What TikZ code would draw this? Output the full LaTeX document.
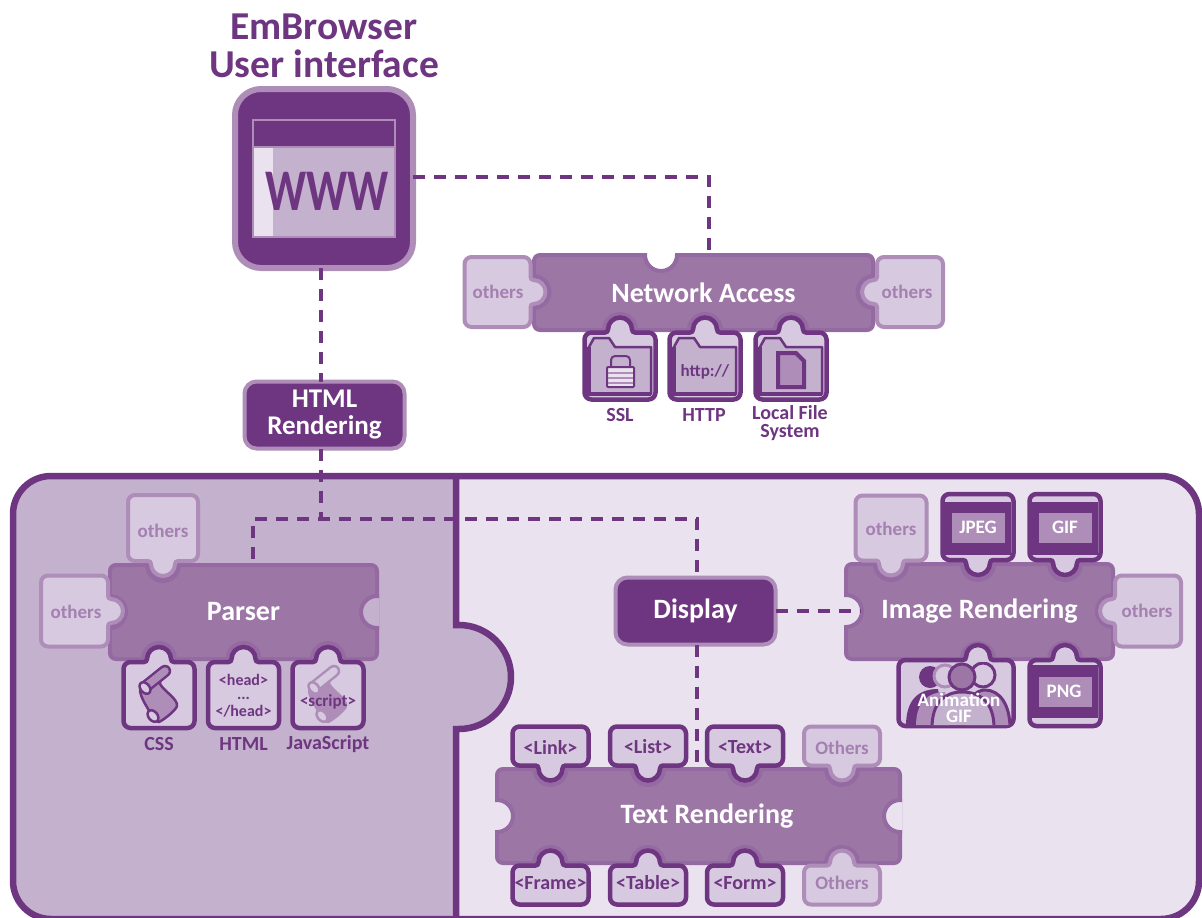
\documentclass[tikz,border=0pt]{standalone}
\usepackage{fontspec}
\setmainfont{Carlito}
\definecolor{darkcol}{HTML}{6E3581}
\definecolor{midcol}{HTML}{9C77A6}
\definecolor{edgecol}{HTML}{9569A1}
\definecolor{palecol}{HTML}{AE8DB9}
\definecolor{lightcol}{HTML}{D7C9DF}
\definecolor{panelcol}{HTML}{C3B1CD}
\definecolor{backcol}{HTML}{EAE2EF}
\begin{document}
\begin{tikzpicture}[x=1pt,y=-1pt,
  puzzle/.style={rectangle,draw=edgecol,fill=midcol,line width=4pt,rounded corners=6pt,
    inner sep=0pt,outer sep=0pt,text=white,font=\bfseries\fontsize{28}{28}\selectfont},
  button/.style={rectangle,draw=palecol,fill=darkcol,line width=4pt,rounded corners=12pt,
    inner sep=0pt,outer sep=0pt,text=white,align=center,minimum width=160pt,minimum height=67pt,
    font=\bfseries\fontsize{27}{27}\selectfont},
  link/.style={draw=darkcol,line width=3.5pt,dash pattern=on 12pt off 9pt},
  caption/.style={inner sep=0pt,text=darkcol,align=center,font=\bfseries\fontsize{20}{18}\selectfont},
  othertext/.style={caption,text=palecol!85!darkcol,font=\bfseries\fontsize{19}{18}\selectfont},
  phototext/.style={caption,text=white,font=\bfseries\fontsize{19}{16}\selectfont},
  darktab/.style={draw=darkcol,fill=lightcol,line width=4.5pt},
  paletab/.style={draw=palecol,fill=lightcol,line width=4pt},
  pics/earbox/.style n args={3}{code={
    \path[pic actions]
      (-#1,#2-7) -- (-#1,-#2+7) arc[start angle=180,end angle=270,radius=7]
      -- ({#3-15},-#2) arc[start angle=90,end angle=0,radius=3]
      arc[start angle=180,end angle=360,radius=12]
      arc[start angle=180,end angle=90,radius=3]
      -- (#1-7,-#2) arc[start angle=270,end angle=360,radius=7]
      -- (#1,#2-7) arc[start angle=0,end angle=90,radius=7]
      -- (-#1+7,#2) arc[start angle=90,end angle=180,radius=7] -- cycle;
  }},
  pics/notch/.style={code={
    \path[fill=#1,draw=edgecol,line width=4pt]
      (-16,-2) -- (-16,0) arc[start angle=180,end angle=0,radius=16] -- (16,-2);
  }},
  pics/folder/.style={code={
    \path[fill=panelcol,draw=darkcol,line width=2.5pt,line join=round]
      (-31,-19) -- (-26,-28) -- (-11,-28) -- (-5,-19) -- (31,-19) -- (31,28) -- (-31,28) -- cycle;
    \draw[darkcol,line width=4pt] (-31,-19) -- (-31,28) -- (31,28);
  }},
  pics/photo/.style={code={
    \fill[darkcol] (-33,-26.5) rectangle (33,26.5);
    \fill[palecol] (-26.5,-15) rectangle (26.5,15);
  }},
  pics/scroll/.style 2 args={code={
    \path[fill=palecol,draw=#1,line width=2.5pt,line join=round]
      (-19,-4) -- (1,-16) -- (1,-11) .. controls (6,-3) and (19,4) .. (18,11)
      .. controls (17,15) and (6,24) .. (0,27) -- (-8,24)
      .. controls (-7,16) and (-17,8) .. (-19,-4) -- cycle;
    \draw[#1,line width=12.5pt,line cap=round] (-14,-8) -- (6,-24);
    \draw[#2,line width=7.5pt,line cap=round] (-14,-8) -- (6,-24);
    \path[fill=lightcol,draw=#1,line width=2.5pt,rotate around={-50:(-14,-7)}]
      (-14,-7) ellipse[x radius=6.5,y radius=4.5];
    \path[fill=lightcol,draw=#1,line width=2.5pt,rotate around={-50:(-6,21)}]
      (-6,21) ellipse[x radius=6.5,y radius=4.5];
  }}]
\useasboundingbox (0,0) rectangle (1202,918);
% big panel
\fill[backcol,rounded corners=38pt] (13,476) rectangle (1199,919);
\begin{scope}
\clip[rounded corners=38pt] (13,476) rectangle (1199,919);
\fill[panelcol] (0,470) -- (456,470) -- (456,625) -- (459,625) arc[start angle=-90,end angle=90,radius=52]
  -- (456,729) -- (456,930) -- (0,930) -- cycle;
\end{scope}
\draw[darkcol,line width=6.5pt] (456,476) -- (456,625) -- (459,625) arc[start angle=-90,end angle=90,radius=52]
  -- (456,729) -- (456,919);
\draw[darkcol,line width=6.5pt,rounded corners=38pt] (13,476) rectangle (1199,919);
% title and screen
\node[inner sep=0pt,text=darkcol,align=center,font=\bfseries\fontsize{39.5}{38}\selectfont] (title) at (324,46) {EmBrowser\\User interface};
\node[rectangle,draw=palecol,fill=darkcol,line width=6pt,rounded corners=26pt,inner sep=0pt,outer sep=0pt,
  minimum width=178pt,minimum height=179pt] (www) at (324,178.5) {};
\draw[palecol,fill=panelcol,line width=1.5pt] (253,120) rectangle (395,237);
\fill[backcol] (254,148) rectangle (273,236);
\draw[palecol,fill=darkcol,line width=1.5pt] (253,120) rectangle (395,147);
\node[inner sep=0pt,text=darkcol,font=\bfseries\fontsize{59}{59}\selectfont,transform shape,xscale=.77] (wwwtext) at (327,191) {WWW};
% buttons
\node[button] (html) at (324.5,415) {\raisebox{-1.5pt}{HTML}\\\raisebox{-1.5pt}{Rendering}};
\node[button,font=\bfseries\fontsize{28}{28}\selectfont] (display) at (695.5,611) {\raisebox{-2pt}{Display}};
\coordinate (split) at (321,519);
% puzzle bodies
\node[puzzle,minimum width=339pt,minimum height=75pt] (network) at (703.5,292.5) {Network Access};
\node[puzzle,minimum width=267pt,minimum height=94pt] (parser) at (243.5,612) {Parser};
\node[puzzle,minimum width=267pt,minimum height=95pt] (image) at (979.5,611.5) {Image Rendering};
\node[puzzle,minimum width=403pt,minimum height=94pt] (text) at (698.5,816) {\hspace*{17pt}\raisebox{-2pt}{Text Rendering}};
% connectors
\draw[link] ([yshift=1.5pt]www.east) -| ([xshift=5.5pt]network.north);
\draw[link] ([xshift=-3pt]www.south) -- ([xshift=-3.5pt]html.north);
\draw[link] ([xshift=-3.5pt]html.south) -- (split);
\draw[link] ([xshift=9.5pt,yshift=6pt]parser.north) |- (split) -| ([xshift=1.5pt]display.north);
\draw[link] ([xshift=1.5pt]display.south) -- ([xshift=-1.5pt]text.north);
% notches
\pic at (661,255) {notch=white};
\pic[rotate=90] at (533.5,292) {notch=edgecol};
\pic[rotate=-90] at (873.5,292) {notch=edgecol};
\pic[rotate=180] at (620,330) {notch=edgecol};
\pic[rotate=180] at (705,330) {notch=edgecol};
\pic[rotate=180] at (791,330) {notch=edgecol};
\pic at (163,565) {notch=edgecol};
\pic[rotate=90] at (110,612) {notch=edgecol};
\pic[rotate=-90] at (377,612) {notch=panelcol};
\pic[rotate=180] at (159,659) {notch=edgecol};
\pic[rotate=180] at (243.5,659) {notch=edgecol};
\pic[rotate=180] at (328,659) {notch=edgecol};
\pic[rotate=90] at (846,611) {notch=backcol};
\pic[rotate=-90] at (1113,611) {notch=edgecol};
\pic at (891,564) {notch=edgecol};
\pic at (978,564) {notch=edgecol};
\pic at (1065,564) {notch=edgecol};
\pic[rotate=180] at (978,659) {notch=edgecol};
\pic[rotate=180] at (1065,659) {notch=edgecol};
\pic[rotate=90] at (497,816) {notch=backcol};
\pic[rotate=-90] at (900,816) {notch=backcol};
\pic at (550.5,769) {notch=edgecol};
\pic at (648,769) {notch=edgecol};
\pic at (745,769) {notch=edgecol};
\pic at (842,769) {notch=edgecol};
\pic[rotate=180] at (550.5,863) {notch=edgecol};
\pic[rotate=180] at (648,863) {notch=edgecol};
\pic[rotate=180] at (745,863) {notch=edgecol};
\pic[rotate=180] at (842,863) {notch=edgecol};
\draw[link] (display.east) -- (860,611);
% network tabs
\pic[paletab,rotate=-90] at (497.5,292) {earbox={35}{33}{0}};
\pic[paletab,rotate=90] at (910,292) {earbox={35}{33}{0}};
\pic[darktab] at (620,366) {earbox={35.5}{33.5}{0}};
\pic[darktab] at (705,366) {earbox={35.5}{33.5}{0}};
\pic[darktab] at (791,366) {earbox={35.5}{33.5}{0}};
\pic at (620,366) {folder};
\pic at (705,366) {folder};
\pic at (791,366) {folder};
\draw[darkcol,line width=2pt,rounded corners=4pt] (611,370) rectangle (630,356);
\draw[darkcol,fill=backcol,line width=2pt,rounded corners=1pt] (607,367) rectangle (634,387);
\draw[palecol,line width=2pt] (608,373) -- (633,373) (608,378) -- (633,378) (608,383) -- (633,383);
\draw[darkcol,fill=palecol,line width=4pt] (778,353) -- (796,353) -- (804,361) -- (804,387) -- (778,387) -- cycle;
\node[othertext] (netleft) at (498,292) {others};
\node[othertext] (netright) at (907,292) {others};
\node[caption,font=\bfseries\fontsize{17}{17}\selectfont] (httptext) at (705,372) {http://};
\node[caption] (ssl) at (620,415) {SSL};
\node[caption] (http) at (704,415) {HTTP};
\node[caption] (localfile) at (790,423) {Local File\\System};
% parser tabs
\pic[paletab,rotate=180] at (163,528) {earbox={35}{33}{0}};
\pic[paletab,rotate=-90] at (74.5,611) {earbox={35.5}{33.5}{0}};
\pic[darktab] at (159,695) {earbox={35.5}{33}{0}};
\pic[darktab] at (243.5,695) {earbox={35.5}{33}{0}};
\pic[darktab] at (328,695) {earbox={35.5}{33}{0}};
\pic at (159,695) {scroll={darkcol}{palecol}};
\pic at (328,695) {scroll={palecol}{lightcol}};
\node[othertext] (parsertop) at (163,531) {others};
\node[othertext] (parserleft) at (76,612) {others};
\node[caption,font=\bfseries\fontsize{16}{15.5}\selectfont] (headtext) at (243.5,696) {<head>\\\raisebox{2pt}{...}\\</head>};
\node[caption,font=\bfseries\fontsize{17}{16}\selectfont] (scripttext) at (328,702) {<script>};
\node[caption] (css) at (159,744) {CSS};
\node[caption] (htmltext) at (243.5,744) {HTML};
\node[caption] (javascript) at (328,744) {JavaScript};
% image tabs
\pic[paletab,rotate=180] at (891,528) {earbox={35.5}{32.5}{0}};
\pic[paletab,rotate=90] at (1148,611) {earbox={35.5}{33}{0}};
\pic[darktab,rotate=180] at (978,527) {earbox={35.5}{33}{0}};
\pic[darktab,rotate=180] at (1065,527) {earbox={35.5}{33}{0}};
\pic[darktab] at (1065,693) {earbox={35.5}{33}{0}};
\pic[darktab] at (956,693) {earbox={57.5}{33}{22}};
\pic at (978,528) {photo};
\pic at (1065,528) {photo};
\pic at (1065,691.5) {photo};
\begin{scope}
\clip[rounded corners=6pt] (898.5,662) rectangle (1013.5,725);
\fill[darkcol] (930,677) circle[radius=11];
\fill[darkcol] (906,726) .. controls (906,698) and (920,689) .. (938,689) -- (945,726) -- cycle;
\draw[palecol,fill=lightcol,line width=3pt] (945,676) circle[radius=11];
\fill[palecol] (916,726) .. controls (916,700) and (930,692) .. (945,692) -- (950,726) -- cycle;
\draw[darkcol,fill=palecol,line width=3pt] (965,728) .. controls (965,700) and (975,690) .. (985,690) .. controls (1000,690) and (1010,705) .. (1010,728);
\draw[darkcol,fill=lightcol,line width=3pt] (983,675) circle[radius=12];
\draw[darkcol,fill=panelcol,line width=3pt] (932,728) .. controls (932,702) and (945,692) .. (962,692) .. controls (980,692) and (994,702) .. (994,728);
\draw[darkcol,fill=midcol,line width=3pt] (962,677) circle[radius=13];
\end{scope}
\node[othertext] (imgtop) at (891,529) {others};
\node[othertext] (imgright) at (1147,611) {others};
\node[phototext] (jpeg) at (978,527) {JPEG};
\node[phototext] (gif) at (1065,527) {GIF};
\node[phototext] (png) at (1064,691) {PNG};
\node[phototext] (anim) at (959,708) {Animation\\GIF};
% text tabs
\pic[darktab,rotate=180] at (550.5,746) {earbox={38}{19.5}{0}};
\pic[darktab,rotate=180] at (648,746) {earbox={38}{19.5}{0}};
\pic[darktab,rotate=180] at (745,746) {earbox={38}{19.5}{0}};
\pic[paletab,rotate=180] at (842,746) {earbox={38}{19.5}{0}};
\pic[darktab] at (550.5,885) {earbox={38}{19.5}{0}};
\pic[darktab] at (648,885) {earbox={38}{19.5}{0}};
\pic[darktab] at (745,885) {earbox={38}{19.5}{0}};
\pic[paletab] at (842,885) {earbox={38}{19.5}{0}};
\node[caption] (linktext) at (550.5,747) {<Link>};
\node[caption] (listtext) at (648,747) {<List>};
\node[caption] (texttext) at (745,747) {<Text>};
\node[othertext] (othtop) at (842,748) {Others};
\node[caption] (frametext) at (550.5,883) {<Frame>};
\node[caption] (tabletext) at (648,883) {<Table>};
\node[caption] (formtext) at (745,883) {<Form>};
\node[othertext] (othbottom) at (842,883) {Others};
\end{tikzpicture}
\end{document}
